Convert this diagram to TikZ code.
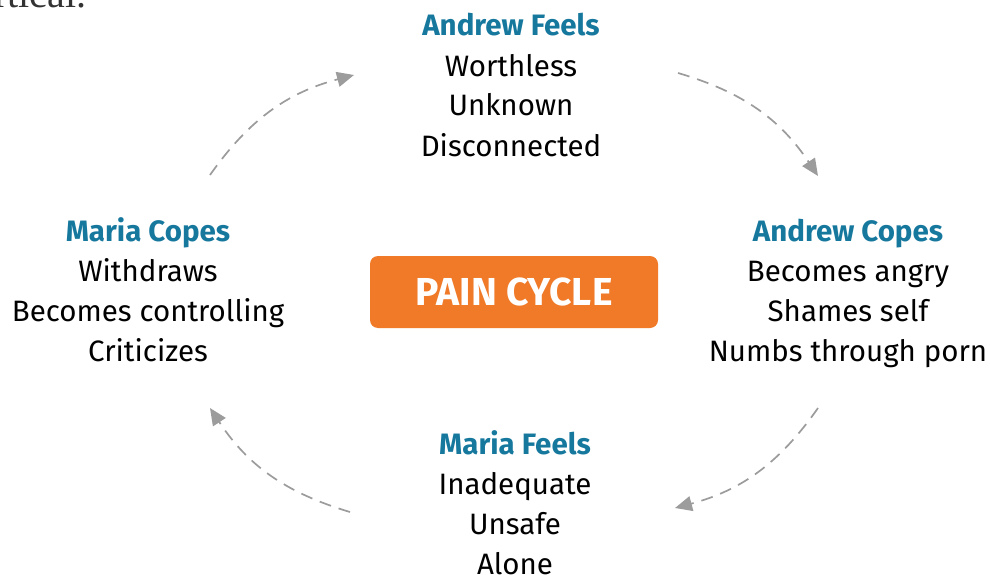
\documentclass[tikz,border=0pt]{standalone}
\usepackage{fontspec}
\setmainfont{Fira Sans}
\newfontfamily\cutserif{Liberation Serif}
\usepackage{xcolor}
\usetikzlibrary{arrows.meta, positioning}
\definecolor{cycleblue}{HTML}{17789E}
\definecolor{cycleorange}{HTML}{F07A28}
\definecolor{arrowgrey}{HTML}{9C9C9C}
\tikzstyle{cyclearrow} = [arrowgrey, line width=1.7pt, dash pattern=on 12pt off 8pt, -{Triangle[length=17pt,width=15pt]}]
\tikzstyle{feelings}   = [align=center, inner sep=0pt, font=\fontsize{29.5}{40}\selectfont]
\tikzstyle{painbox}    = [rectangle, fill=cycleorange, text=white, rounded corners=8pt, minimum width=288pt, minimum height=72pt, font=\bfseries\fontsize{39}{40}\selectfont]
\newcommand{\heading}[1]{{\bfseries\color{cycleblue}#1}}

\begin{document}
\begin{tikzpicture}[x=1pt, y=-1pt]
    \useasboundingbox (0,0) rectangle (990,575);
    \clip (0,0) rectangle (990,575);
    % cut-off text from the page above
    \node (cut) at (-6,8) [anchor=base west, inner sep=0pt, font=\cutserif\fontsize{40}{40}\selectfont, text=black!80] {rtical.};
    % the four stages round the centre (anchored at the last baseline)
    \node (andrewfeels) at (511,156) [feelings, anchor=base] {\heading{Andrew Feels}\\Worthless\\Unknown\\Disconnected};
    \node (andrewcopes) at (848,361) [feelings, anchor=base] {\heading{Andrew Copes}\\Becomes angry\\Shames self\\Numbs through porn};
    \node (mariafeels)  at (515,574) [feelings, anchor=base] {\heading{Maria Feels}\\Inadequate\\Unsafe\\Alone};
    \node (mariacopes)  at (148,361) [feelings, anchor=base] {\heading{Maria Copes}\\Withdraws\\Becomes controlling\\Criticizes};
    % centre
    \node (pain) at (514,292) [painbox] {PAIN CYCLE};
    % arrow ends
    \coordinate (tlstart) at (210,175);
    \coordinate (tlend)   at (354,75);
    \coordinate (trstart) at (678,73);
    \coordinate (trend)   at (818,176);
    \coordinate (brstart) at (818,408);
    \coordinate (brend)   at (675,508);
    \coordinate (blstart) at (350,512);
    \coordinate (blend)   at (210,408);

    \draw [cyclearrow] (tlstart) to[bend left=20] (tlend);
    \draw [cyclearrow] (trstart) to[bend left=20] (trend);
    \draw [cyclearrow] (brstart) to[bend left=20] (brend);
    \draw [cyclearrow] (blstart) to[bend left=20] (blend);
\end{tikzpicture}
\end{document}
